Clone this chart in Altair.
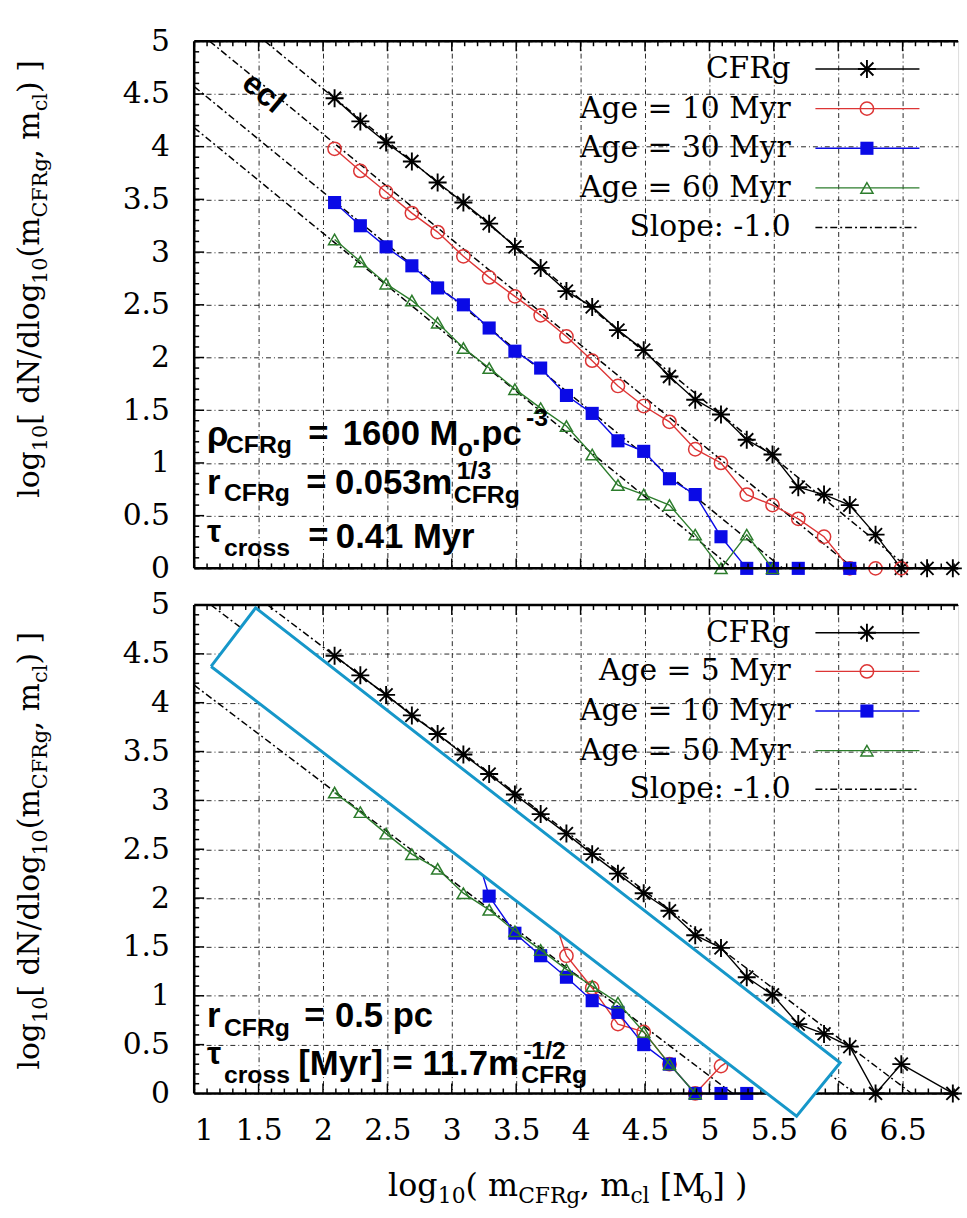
import altair as alt
import pandas as pd

SERIF = "DejaVu Serif"
SANS = "Liberation Sans"

# ---------------- values ----------------
# top panel
top_cfrg_x = [2.09, 2.29, 2.49, 2.69, 2.89, 3.09, 3.29, 3.49, 3.69, 3.89, 4.09, 4.29, 4.49,
              4.69, 4.89, 5.09, 5.29, 5.49, 5.69, 5.89, 6.09, 6.29, 6.49, 6.69, 6.89]
top_cfrg_y = [4.46, 4.24, 4.04, 3.86, 3.66, 3.47, 3.27, 3.05, 2.85, 2.63, 2.48, 2.26, 2.07,
              1.82, 1.60, 1.46, 1.22, 1.08, 0.77, 0.70, 0.60, 0.32, 0.0, 0.0, 0.0]
top_age10_x = [2.09, 2.29, 2.49, 2.69, 2.89, 3.09, 3.29, 3.49, 3.69, 3.89, 4.09, 4.29, 4.49,
               4.69, 4.89, 5.09, 5.29, 5.49, 5.69, 5.89, 6.09, 6.29, 6.49]
top_age10_y = [3.98, 3.77, 3.57, 3.37, 3.19, 2.96, 2.76, 2.58, 2.40, 2.20, 1.97, 1.73, 1.54,
               1.39, 1.13, 1.00, 0.70, 0.60, 0.47, 0.30, 0.0, 0.0, 0.0]
top_age30_x = [2.09, 2.29, 2.49, 2.69, 2.89, 3.09, 3.29, 3.49, 3.69, 3.89, 4.09, 4.29, 4.49,
               4.69, 4.89, 5.09, 5.29, 5.49, 5.69, 6.09]
top_age30_y = [3.47, 3.25, 3.05, 2.87, 2.66, 2.50, 2.28, 2.06, 1.90, 1.64, 1.47, 1.21, 1.11,
               0.85, 0.70, 0.30, 0.0, 0.0, 0.0, 0.0]
top_age60_x = [2.09, 2.29, 2.49, 2.69, 2.89, 3.09, 3.29, 3.49, 3.69, 3.89, 4.09, 4.29, 4.49,
               4.69, 4.89, 5.09, 5.29, 5.49]
top_age60_y = [3.12, 2.91, 2.70, 2.54, 2.33, 2.09, 1.90, 1.70, 1.52, 1.35, 1.08, 0.79, 0.70,
               0.60, 0.32, 0.0, 0.32, 0.0]
top_slope_c = [6.55, 6.12, 5.57, 5.18]
top_labels = ["CFRg", "Age = 10 Myr", "Age = 30 Myr", "Age = 60 Myr", "Slope: -1.0"]

# bottom panel
bot_cfrg_x = [2.09, 2.29, 2.49, 2.69, 2.89, 3.09, 3.29, 3.49, 3.69, 3.89, 4.09, 4.29, 4.49,
              4.69, 4.89, 5.09, 5.29, 5.49, 5.69, 5.89, 6.09, 6.29, 6.49, 6.89]
bot_cfrg_y = [4.48, 4.28, 4.08, 3.87, 3.68, 3.47, 3.27, 3.06, 2.86, 2.66, 2.45, 2.25, 2.05,
              1.87, 1.62, 1.49, 1.19, 1.01, 0.71, 0.61, 0.48, 0.0, 0.30, 0.0]
bot_age5_x = [2.09, 2.29, 2.49, 2.69, 2.89, 3.09, 3.29, 3.49, 3.69, 3.89, 4.09, 4.29, 4.49,
              4.69, 4.89, 5.09, 5.29]
bot_age5_y = [3.98, 3.78, 3.58, 3.38, 3.18, 2.98, 2.78, 2.58, 2.20, 1.41, 1.08, 0.71, 0.63,
              0.30, 0.0, 0.28, 0.45]
bot_age10_x = [2.09, 2.29, 2.49, 2.69, 2.89, 3.09, 3.29, 3.49, 3.69, 3.89, 4.09, 4.29, 4.49,
               4.69, 4.89, 5.09, 5.29]
bot_age10_y = [3.90, 3.70, 3.50, 3.30, 3.10, 2.90, 2.02, 1.64, 1.41, 1.19, 0.95, 0.83, 0.50,
               0.30, 0.0, 0.0, 0.0]
bot_age50_x = [2.09, 2.29, 2.49, 2.69, 2.89, 3.09, 3.29, 3.49, 3.69, 3.89, 4.09, 4.29, 4.49,
               4.69, 4.89]
bot_age50_y = [3.08, 2.88, 2.66, 2.45, 2.30, 2.05, 1.88, 1.66, 1.47, 1.27, 1.10, 0.93, 0.63,
               0.30, 0.0]
bot_slope_c = [6.57, 6.13, 5.18]
bot_labels = ["CFRg", "Age = 5 Myr", "Age = 10 Myr", "Age = 50 Myr", "Slope: -1.0"]

# white occluding box drawn over the lower panel (corners, data units)
box_x = [1.131, 1.477, 6.015, 5.677]
box_y = [4.371, 4.970, 0.314, -0.233]

x_ticks = [1, 1.5, 2, 2.5, 3, 3.5, 4, 4.5, 5, 5.5, 6, 6.5]
y_ticks = [0, 0.5, 1, 1.5, 2, 2.5, 3, 3.5, 4, 4.5, 5]

# ---------------- styling / layout ----------------
W = 771
H_TOP = 532
H_BOT = 493
XMAX = 1 + W / 130.0
STAR = "M-1,0L1,0M0,-1L0,1M-0.72,-0.72L0.72,0.72M-0.72,0.72L0.72,-0.72"
RED, BLUE, GREEN = "#dd3535", "#0a0ae6", "#2c7c2c"
STYLES = [  # color, shape, filled, size
    ("black", STAR, False, 330),
    (RED, "circle", False, 180),
    (BLUE, "square", True, 175),
    (GREEN, "triangle-up", False, 150),
]
ONE = pd.DataFrame({"a": [0]})

DV = {' ': 0.318, '(': 0.390, ')': 0.390, '[': 0.390, ']': 0.390, ',': 0.318, '.': 0.318,
      '/': 0.337, '=': 0.838, 'C': 0.732, 'F': 0.688, 'M': 0.86, 'N': 0.838, 'R': 0.773,
      'c': 0.563, 'd': 0.644, 'g': 0.644, 'l': 0.322, 'm': 0.953, 'o': 0.602}
for _d in "0123456789":
    DV[_d] = 0.636


def tw(s, size):
    return sum(DV.get(ch, 0.6) for ch in s) * size


def txt(t, x, y, size, font=SERIF, weight="normal", angle=0, align="left",
        baseline="alphabetic"):
    return alt.Chart(ONE).mark_text(
        text=t, font=font, fontSize=size, fontWeight=weight, angle=angle,
        align=align, baseline=baseline, color="black"
    ).encode(x=alt.value(x), y=alt.value(y))


# (text, is_subscript, leading space in em)
YT_SEGS = [("log", 0, 0), ("10", 1, 0), ("[ dN/dlog", 0, 0), ("10", 1, 0), ("(m", 0, 0),
           ("CFRg", 1, 0), (", m", 0, 0), ("cl", 1, 0), (") ]", 0, 0)]
XT_SEGS = [("log", 0, 0), ("10", 1, 0), ("( m", 0, 0), ("CFRg", 1, 0), (", m", 0, 0),
           ("cl", 1, 0), ("[M", 0, 0.318), ("o", 1, 0), ("] )", 0, 0)]


def seglen(segs, main, sub):
    return sum(tw(s, sub if k else main) + p * main for s, k, p in segs)


def ytitle(cy, main=30, sub=21):
    y = cy + seglen(YT_SEGS, main, sub) / 2
    out = []
    for s, k, p in YT_SEGS:
        size = sub if k else main
        y -= p * main
        out.append(txt(s, -157 + (8 if k else 0), y, size, angle=270))
        y -= tw(s, size)
    return out


def xtitle(cx, base, main=32, sub=22):
    x = cx - seglen(XT_SEGS, main, sub) / 2
    out = []
    for s, k, p in XT_SEGS:
        size = sub if k else main
        x += p * main
        out.append(txt(s, x, base + (8 if k else 0), size))
        x += tw(s, size)
    return out


def panel(H, series, slope_c, labels, notes, xlabels, ycy, box=False, ecl=False):
    xs = alt.Scale(domain=[1, XMAX], nice=False, zero=False)
    ys = alt.Scale(domain=[0, 5], nice=False, zero=False)
    xaxis = alt.Axis(values=x_ticks, format="~g", grid=True, gridDash=[5, 3, 1, 3],
                     gridColor="black", gridOpacity=0.85, gridWidth=1, ticks=False,
                     domain=False, labels=xlabels, labelFont=SERIF, labelFontSize=30,
                     labelColor="black", labelPadding=22, title=None, zindex=0)
    yaxis = alt.Axis(values=y_ticks, format="~g", grid=True, gridDash=[5, 3, 1, 3],
                     gridColor="black", gridOpacity=0.85, gridWidth=1, ticks=False,
                     domain=False, labelFont=SERIF, labelFontSize=30, labelColor="black",
                     labelPadding=25, title=None, zindex=0)

    def X(f):
        return alt.X(f"{f}:Q", scale=xs, axis=xaxis)

    def Y(f):
        return alt.Y(f"{f}:Q", scale=ys, axis=yaxis)

    layers = []
    rows = []
    for i, c in enumerate(slope_c):
        x0 = max(1.0, c - 5.0)
        rows += [{"x": x0, "y": c - x0, "id": i}, {"x": c, "y": 0.0, "id": i}]
    layers.append(alt.Chart(pd.DataFrame(rows)).mark_line(
        color="black", strokeWidth=1.5, strokeDash=[7, 3, 2, 3]
    ).encode(x=X("x"), y=Y("y"), detail="id:N"))

    for (xv, yv), (col, shp, fil, sz) in zip(series, STYLES):
        df = pd.DataFrame({"x": xv, "y": yv})
        layers.append(alt.Chart(df).mark_line(color=col, strokeWidth=1.4)
                      .encode(x=X("x"), y=Y("y")))
        layers.append(alt.Chart(df).mark_point(
            shape=shp, filled=fil, size=sz, color=col,
            strokeWidth=1.9 if col == "black" else 1.5, opacity=1
        ).encode(x=X("x"), y=Y("y")))

    # inward ticks
    xmin = [round(1 + 0.1 * i, 1) for i in range(1, 60) if i % 5]
    xmaj = [1.5, 2, 2.5, 3, 3.5, 4, 4.5, 5, 5.5, 6, 6.5]
    ymin = [round(0.1 * i, 1) for i in range(1, 50) if i % 5]
    ymaj = [0.5, 1, 1.5, 2, 2.5, 3, 3.5, 4, 4.5]
    for vals, L in ((xmin, 5), (xmaj, 10)):
        d = pd.DataFrame({"x": vals})
        for y0, y1 in ((0, L), (H, H - L)):
            layers.append(alt.Chart(d).mark_rule(color="black", strokeWidth=1.5).encode(
                x=X("x"), y=alt.value(y0), y2=alt.value(y1)))
    for vals, L in ((ymin, 5), (ymaj, 10)):
        d = pd.DataFrame({"y": vals})
        layers.append(alt.Chart(d).mark_rule(color="black", strokeWidth=1.5).encode(
            y=Y("y"), x=alt.value(0), x2=alt.value(L)))
    # borders
    for enc in ({"x": alt.value(0), "x2": alt.value(W), "y": alt.value(0)},
                {"x": alt.value(0), "x2": alt.value(W), "y": alt.value(H)},
                {"x": alt.value(0), "y": alt.value(0), "y2": alt.value(H)}):
        layers.append(alt.Chart(ONE).mark_rule(color="black", strokeWidth=2.5).encode(**enc))

    # legend
    ry = [28, 68, 108, 148, 188] if H == H_TOP else [28, 67, 107, 147, 186]
    for i, lab in enumerate(labels):
        layers.append(txt(lab, 602, ry[i], 30, baseline="middle", align="right"))
        if i < 4:
            col, shp, fil, sz = STYLES[i]
            layers.append(alt.Chart(ONE).mark_rule(color=col, strokeWidth=1.4).encode(
                x=alt.value(627), x2=alt.value(732), y=alt.value(ry[i])))
            layers.append(alt.Chart(ONE).mark_point(
                shape=shp, filled=fil, size=sz, color=col,
                strokeWidth=1.9 if col == "black" else 1.5, opacity=1
            ).encode(x=alt.value(679), y=alt.value(ry[i])))
        else:
            layers.append(alt.Chart(ONE).mark_rule(
                color="black", strokeWidth=1.5, strokeDash=[7, 3, 2, 3]
            ).encode(x=alt.value(627), x2=alt.value(732), y=alt.value(ry[i])))

    # annotations
    for t, x, y, size in notes:
        layers.append(txt(t, x, y, size, font=SANS, weight="bold"))
    if ecl:
        layers.append(txt("ecl", 70, 52, 32, font=SANS, weight="bold", angle=40,
                          align="center", baseline="middle"))

    layers += ytitle(ycy)
    if xlabels:
        layers += xtitle(377, 596)

    if box:
        bx = pd.DataFrame({
            "x": [box_x[0], box_x[1], box_x[3], box_x[2]],
            "y": [box_y[0], box_y[1],
                  box_y[1] + (box_x[3] - box_x[1]) * (box_y[2] - box_y[1]) / (box_x[2] - box_x[1]),
                  box_y[2]],
            "y2": [box_y[0],
                   box_y[0] + (box_x[1] - box_x[0]) * (box_y[3] - box_y[0]) / (box_x[3] - box_x[0]),
                   box_y[3], box_y[2]],
        })
        layers.append(alt.Chart(bx).mark_area(color="white", opacity=1, orient="vertical")
                      .encode(x=X("x"), y=Y("y"), y2="y2:Q"))
        ol = pd.DataFrame({"x": box_x + [box_x[0]], "y": box_y + [box_y[0]],
                           "o": list(range(5))})
        layers.append(alt.Chart(ol).mark_line(color="#1697c9", strokeWidth=3)
                      .encode(x=X("x"), y=Y("y"), order="o:Q"))

    return alt.layer(*layers).properties(width=W, height=H)


top_notes = [
    ("ρ", 13, 409, 35), ("CFRg", 32, 416, 25), ("=", 115, 407, 35),
    ("1600 M", 150, 407, 35), ("o", 266, 419, 25), (".pc", 280, 407, 35),
    ("-3", 335, 388, 25),
    ("r", 13, 457, 35), ("CFRg", 30, 464, 25), ("=", 113, 457, 35),
    ("0.053m", 142, 457, 35), ("1/3", 265, 442, 25), ("CFRg", 262, 466, 25),
    ("τ", 13, 505, 32), ("cross", 30, 520, 25), ("=", 115, 510, 35),
    ("0.41 Myr", 143, 511, 35),
]
bot_notes = [
    ("r", 13, 426, 35), ("CFRg", 30, 435, 25), ("=", 111, 426, 35),
    ("0.5 pc", 142, 426, 35),
    ("τ", 13, 463, 32), ("cross", 30, 482, 25), ("[Myr] = 11.7m", 105, 474, 35),
    ("-1/2", 332, 458, 25), ("CFRg", 330, 482, 25),
]

top = panel(H_TOP,
            [(top_cfrg_x, top_cfrg_y), (top_age10_x, top_age10_y),
             (top_age30_x, top_age30_y), (top_age60_x, top_age60_y)],
            top_slope_c, top_labels, top_notes, False, 240, ecl=True)
bot = panel(H_BOT,
            [(bot_cfrg_x, bot_cfrg_y), (bot_age5_x, bot_age5_y),
             (bot_age10_x, bot_age10_y), (bot_age50_x, bot_age50_y)],
            bot_slope_c, bot_labels, bot_notes, True, 248, box=True)

chart = alt.vconcat(top, bot, spacing=5).properties(
    padding={"left": 14, "top": 20, "right": 0, "bottom": 0}
).configure_view(stroke=None).configure(background="white")

chart.save("out.html", embed_options={"renderer": "svg", "actions": False})
